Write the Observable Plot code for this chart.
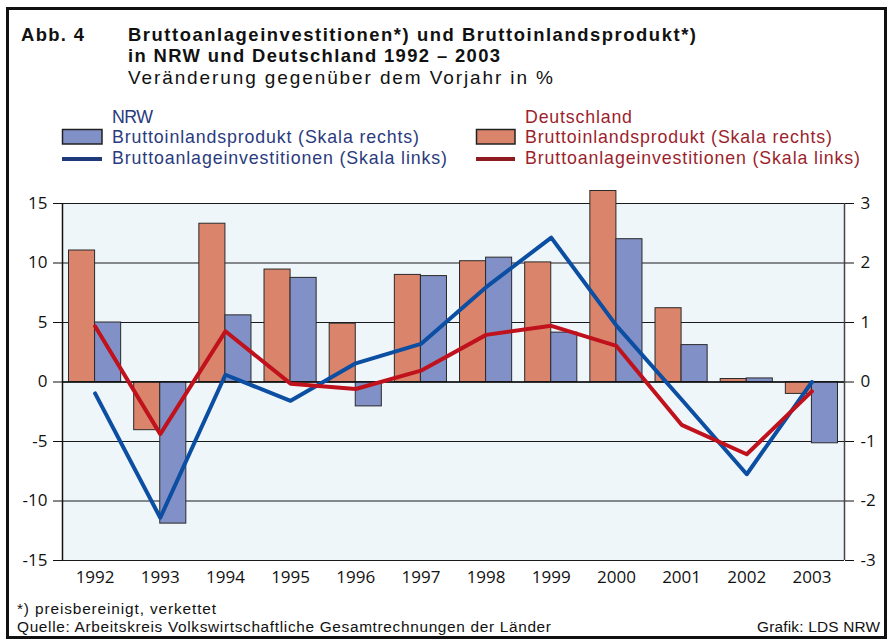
<!DOCTYPE html>
<html><head><meta charset="utf-8">
<script src="https://cdn.jsdelivr.net/npm/d3@7"></script>
<script src="https://cdn.jsdelivr.net/npm/@observablehq/plot@0.6"></script>
<style>
body{margin:0;background:#fff;}
#wrap{position:relative;width:888px;height:641px;overflow:hidden;background:#fff;font-family:"Liberation Sans",Arial,sans-serif;}
#frame{position:absolute;left:6px;top:7px;width:881px;height:632px;box-sizing:border-box;border:3px solid #111;}
#chart{position:absolute;left:0;top:185px;}
#swatch{position:absolute;left:0;top:0;pointer-events:none;}
.t{position:absolute;white-space:nowrap;margin:0;padding:0;font-family:"Liberation Sans",Arial,sans-serif;}
</style></head>
<body><div id="wrap"><div id="frame"></div><div id="chart"></div><svg id="swatch" width="888" height="200"></svg></div>
<script>
// Data
const years = [1992,1993,1994,1995,1996,1997,1998,1999,2000,2001,2002,2003];
// Bruttoinlandsprodukt, % (right scale)
const deBIP  = [2.21,-0.81,2.66,1.89,0.98,1.80,2.03,2.01,3.21,1.24,0.05,-0.20];
const nrwBIP = [1.00,-2.38,1.12,1.75,-0.41,1.78,2.09,0.83,2.40,0.62,0.06,-1.03];
// Bruttoanlageinvestitionen, % (left scale)
const deBAI  = [4.68,-4.38,4.26,-0.14,-0.59,0.95,3.96,4.72,3.03,-3.60,-6.07,-0.79];
const nrwBAI = [-0.96,-11.41,0.61,-1.58,1.57,3.20,7.97,12.13,4.74,-1.47,-7.75,0.00];
const leftTicks = [-15,-10,-5,0,5,10,15];
const rightFactor = 5; // right scale: 3 ↔ 15

const rows = years.map((y,i)=>({year:y, de:deBIP[i]*rightFactor, nrw:nrwBIP[i]*rightFactor, deI:deBAI[i], nrwI:nrwBAI[i]}));

const chart = Plot.plot({
  width: 888, height: 410,
  marginTop: 18, marginBottom: 35, marginLeft: 62, marginRight: 44,
  x: {type:"linear", domain:[1991.5, 2003.5], label:null},
  y: {domain:[-15,15], label:null},
  style: {fontFamily:"'Open Sans', sans-serif", fontSize:"17px", color:"#111", background:"transparent"},
  marks: [
    Plot.frame({fill:"#eef6fa", stroke:null}),
    Plot.ruleY(leftTicks, {stroke:"#1a1a1a", strokeWidth:1.2}),
    Plot.rect(rows, {x1:d=>d.year-0.4, x2:d=>d.year, y1:d=>0, y2:"de", fill:"#db846c", stroke:"#2a2a2a", strokeWidth:1}),
    Plot.rect(rows, {x1:d=>d.year, x2:d=>d.year+0.4, y1:d=>0, y2:"nrw", fill:"#8191c8", stroke:"#2a2a2a", strokeWidth:1}),
    Plot.ruleY([0], {stroke:"#111", strokeWidth:1.5}),
    Plot.line(rows, {x:"year", y:"nrwI", stroke:"#0b4ea2", strokeWidth:4}),
    Plot.line(rows, {x:"year", y:"deI", stroke:"#c0121d", strokeWidth:4}),
    Plot.ruleX([1991.5], {stroke:"#111", strokeWidth:1.5}),
    Plot.ruleX([2003.5], {stroke:"#444", strokeWidth:1.5}),
    Plot.axisX(years, {tickSize:0, tickPadding:10, tickFormat:d=>String(d), label:null}),
    Plot.axisY(leftTicks, {anchor:"left", tickSize:9, tickPadding:6, tickFormat:d=>String(d), label:null}),
    Plot.axisY(leftTicks, {anchor:"right", tickSize:9, tickPadding:7, tickFormat:d=>String(d/rightFactor), label:null})
  ]
});
document.getElementById("chart").appendChild(chart);

// Titles, legend, footer (HTML text lines; x0/x1 = start/end, b = baseline)
const navy = "#2a3b7e", wine = "#9c1f2d";
const texts = [
  {t:"Abb. 4", x0:21, x1:84, b:42, w:700, s:18.4, c:"#111"},
  {t:"Bruttoanlageinvestitionen*) und Bruttoinlandsprodukt*)", x0:128, x1:696, b:42, w:700, s:18.4, c:"#111"},
  {t:"in NRW und Deutschland 1992 – 2003", x0:128, x1:500, b:62.8, w:700, s:18.4, c:"#111"},
  {t:"Veränderung gegenüber dem Vorjahr in %", x0:128, x1:553, b:84, w:400, s:19, c:"#111"},
  {t:"NRW", x0:112, x1:153, b:123, w:400, s:17.8, c:navy},
  {t:"Bruttoinlandsprodukt (Skala rechts)", x0:112, x1:419, b:143.5, w:400, s:17.8, c:navy},
  {t:"Bruttoanlageinvestitionen (Skala links)", x0:112, x1:447, b:164, w:400, s:17.8, c:navy},
  {t:"Deutschland", x0:525, x1:632, b:123, w:400, s:17.8, c:wine},
  {t:"Bruttoinlandsprodukt (Skala rechts)", x0:525, x1:832, b:143.5, w:400, s:17.8, c:wine},
  {t:"Bruttoanlageinvestitionen (Skala links)", x0:525, x1:860, b:164, w:400, s:17.8, c:wine},
  {t:"*) preisbereinigt, verkettet", x0:17, x1:216, b:614, w:400, s:15.4, c:"#111"},
  {t:"Quelle: Arbeitskreis Volkswirtschaftliche Gesamtrechnungen der Länder", x0:17, x1:551, b:631.8, w:400, s:15.4, c:"#111"},
  {t:"Grafik: LDS NRW", x0:757, x1:880, b:631.8, w:400, s:15.4, c:"#111"}
];
// Liberation Sans metrics: ascent 0.905em, descent 0.212em
const ASC = 0.905, DESC = 0.212;
const wrap = document.getElementById("wrap");
for (const d of texts) {
  const lh = (ASC + DESC) * d.s + 0.2;
  const el = document.createElement("div");
  el.className = "t";
  el.textContent = d.t;
  el.style.fontSize = d.s + "px";
  el.style.fontWeight = d.w;
  el.style.color = d.c;
  el.style.lineHeight = lh + "px";
  el.style.height = lh + "px";
  el.style.left = d.x0 + "px";
  el.style.top = (d.b - 0.1 - ASC * d.s) + "px";
  wrap.appendChild(el);
  const w = el.getBoundingClientRect().width;
  const n = [...d.t].length;
  const ls = (d.x1 - d.x0 - w) / Math.max(1, n - 1);
  el.style.letterSpacing = ls.toFixed(3) + "px";
}

// legend swatches
const svg = d3.select("#swatch");
svg.append("rect").attr("x",62.5).attr("y",129.5).attr("width",39.5).attr("height",14.5).attr("fill","#8191c8").attr("stroke","#222").attr("stroke-width",1.5);
svg.append("line").attr("x1",62).attr("x2",102).attr("y1",159).attr("y2",159).attr("stroke","#1e3a7b").attr("stroke-width",4);
svg.append("rect").attr("x",476.5).attr("y",129.5).attr("width",38.5).attr("height",14.5).attr("fill","#db846c").attr("stroke","#222").attr("stroke-width",1.5);
svg.append("line").attr("x1",476).attr("x2",515).attr("y1",159).attr("y2",159).attr("stroke","#8e1b1f").attr("stroke-width",4);
</script>
</body></html>
